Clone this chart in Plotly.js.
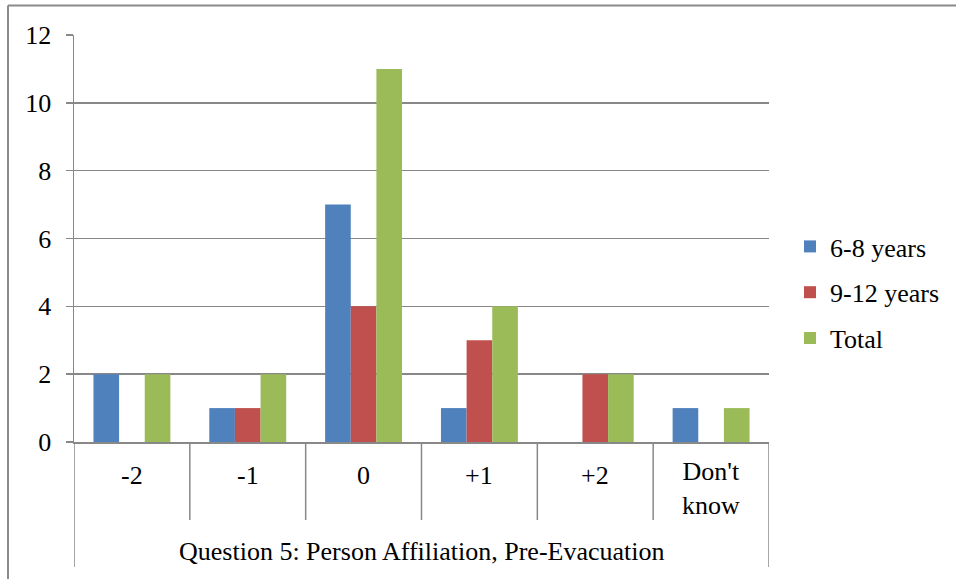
<!DOCTYPE html>
<html>
<head>
<meta charset="utf-8">
<script src="https://cdn.plot.ly/plotly-3.0.1.min.js"></script>
<style>
  html, body { margin: 0; padding: 0; background: #fff; }
  #chart { width: 956px; height: 579px; }
</style>
</head>
<body>
<div id="chart"></div>
<script>
// Responses per answer category, by age group
const categories = ['-2', '-1', '0', '+1', '+2', "Don't<br>know"];
const age6to8 = [2, 1, 7, 1, 0, 1];
const age9to12 = [0, 1, 4, 3, 2, 0];
const total = [2, 2, 11, 4, 2, 1];
const seriesNames = ['6-8 years', '9-12 years', 'Total'];
const seriesColors = ['#4F81BD', '#C0504D', '#9BBB59'];
const yTicks = [0, 2, 4, 6, 8, 10, 12];
const axisTitle = 'Question 5: Person Affiliation, Pre-Evacuation';

const FONT = 'Times New Roman, Liberation Serif, DejaVu Serif';
const FS = 26;
const GRID = '#888888';

// Plot area in pixels: x 74..769, y 35..442
const W = 956, H = 579;
const L = 74, R = 769, T = 35, B = 442;
const px = x => (x - L) / (R - L);
const py = y => (B - y) / (B - T);

const seriesValues = [age6to8, age9to12, total];
const traces = seriesValues.map((vals, i) => ({
  type: 'bar',
  name: seriesNames[i],
  x: categories.map((c, j) => j),
  y: vals,
  marker: { color: seriesColors[i] },
  legendgroup: 'g' + i,
  hoverinfo: 'skip'
}));

const shapes = [];
// outer frame (left and top edges)
shapes.push({ type: 'line', xref: 'paper', yref: 'paper', x0: px(8), x1: px(8), y0: py(5.5), y1: py(H + 2), line: { color: '#8a8a8a', width: 2 } });
shapes.push({ type: 'line', xref: 'paper', yref: 'paper', x0: px(8), x1: px(W + 2), y0: py(5.5), y1: py(5.5), line: { color: '#8a8a8a', width: 2 } });
// category dividers below the axis
for (let k = 0; k <= categories.length; k++) {
  const outer = (k === 0 || k === categories.length);
  shapes.push({
    type: 'line', xref: 'x', yref: 'paper',
    x0: k - 0.5, x1: k - 0.5,
    y0: 0, y1: py(outer ? 567 : 520),
    line: { color: GRID, width: 1.5 }
  });
}

const annotations = categories.map((c, j) => ({
  x: j, xref: 'x', yref: 'paper',
  y: py(c.includes('<br>') ? 488 : 476),
  text: c, showarrow: false,
  font: { family: FONT, size: FS, color: '#000' },
  xanchor: 'center', yanchor: 'middle'
}));
annotations.push({
  x: (categories.length - 1) / 2, xref: 'x', yref: 'paper',
  y: py(551), text: axisTitle, showarrow: false,
  font: { family: FONT, size: FS, color: '#000' },
  xanchor: 'center', yanchor: 'middle'
});

const layout = {
  width: W, height: H,
  margin: { l: L, r: W - R, t: T, b: H - B, pad: 0, autoexpand: false },
  paper_bgcolor: '#fff', plot_bgcolor: '#fff',
  barmode: 'group', bargap: 0.336, bargroupgap: 0,
  font: { family: FONT, size: FS, color: '#000' },
  showlegend: true,
  legend: {
    x: px(790), y: py(223), xanchor: 'left', yanchor: 'top',
    font: { family: FONT, size: FS, color: '#000' },
    tracegroupgap: 9, itemwidth: 30, bgcolor: 'rgba(0,0,0,0)'
  },
  xaxis: {
    range: [-0.5, categories.length - 0.5],
    showticklabels: false, showgrid: false, zeroline: false,
    showline: true, linecolor: GRID, linewidth: 1.5,
    ticks: '', fixedrange: true
  },
  yaxis: {
    range: [0, 12], tickvals: yTicks,
    showgrid: true, gridcolor: GRID, gridwidth: 1.5,
    zeroline: false, showline: true, linecolor: GRID, linewidth: 1.5,
    ticks: 'outside', ticklen: 7, tickcolor: GRID, tickwidth: 1.5,
    ticklabelstandoff: 9,
    tickfont: { family: FONT, size: FS, color: '#000' },
    fixedrange: true
  },
  shapes: shapes,
  annotations: annotations
};

Plotly.newPlot('chart', traces, layout, { displayModeBar: false, staticPlot: true });
</script>
</body>
</html>
